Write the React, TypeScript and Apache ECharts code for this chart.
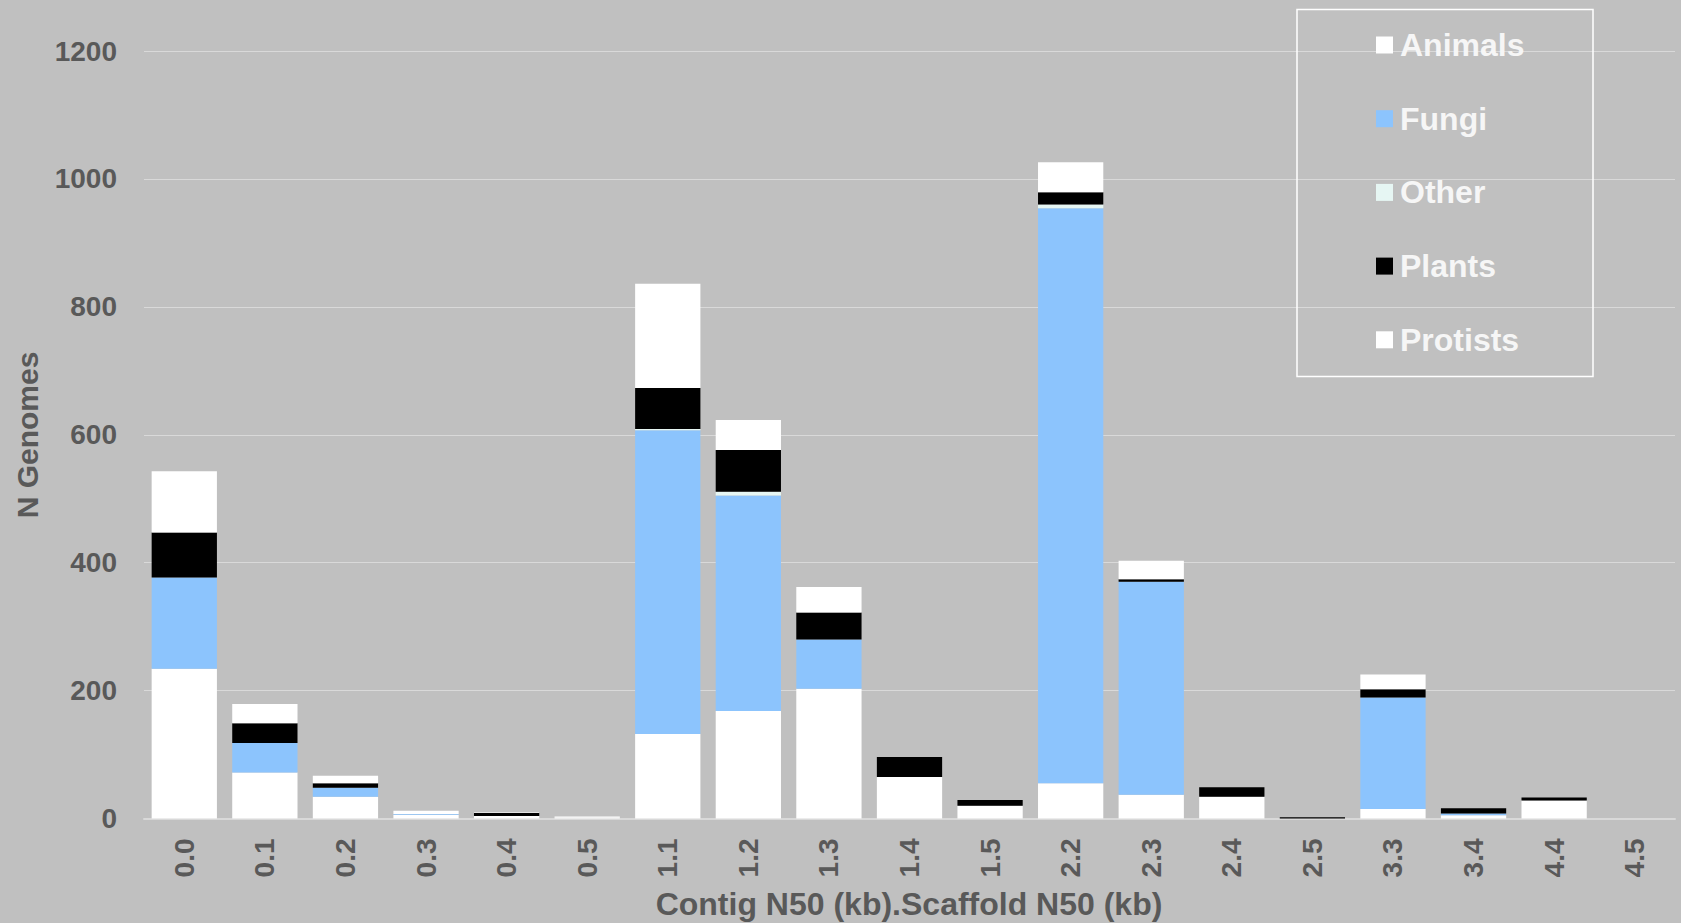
import React, { useEffect, useRef } from "react";
import * as echarts from "echarts";

const categories = ["0.0", "0.1", "0.2", "0.3", "0.4", "0.5", "1.1", "1.2", "1.3", "1.4", "1.5", "2.2", "2.3", "2.4", "2.5", "3.3", "3.4", "4.4", "4.5"];
const seriesNames = ["Animals", "Fungi", "Other", "Plants", "Protists"];
const animals = [234, 72, 34, 6, 4, 2, 132, 168, 203, 65, 20, 55, 37, 34, 0, 15, 5, 28, 0];
const fungi = [143, 46, 14, 1, 0, 0, 475, 337, 77, 0, 0, 899, 333, 0, 0, 174, 3, 0, 0];
const other = [0, 0, 0, 0, 0, 0, 2, 6, 0, 0, 0, 6, 0, 0, 0, 0, 0, 0, 0];
const plants = [70, 31, 7, 0, 5, 0, 64, 65, 42, 31, 9, 19, 4, 15, 2, 13, 8, 5, 0];
const protists = [96, 30, 12, 5, 1, 1, 163, 47, 40, 0, 0, 47, 29, 0, 0, 23, 0, 0, 0];
const seriesColors = ["#ffffff", "#8cc4fd", "#e6f6f3", "#000000", "#ffffff"];
const yTicks = [0, 200, 400, 600, 800, 1000, 1200];

const FONT = "'Liberation Sans', Arial, sans-serif";
const GREY = "#595959";

export default function App() {
  const ref = useRef<HTMLDivElement>(null);
  useEffect(() => {
    if (!ref.current) return;
    const chart = echarts.init(ref.current, null, { renderer: "svg" });
    const values = [animals, fungi, other, plants, protists];
    chart.setOption({
      animation: false,
      backgroundColor: "#c0c0c0",
      grid: { left: 144, right: 6, top: 51, bottom: 104.5, containLabel: false },
      legend: {
        data: seriesNames,
        orient: "vertical",
        left: 1371,
        top: 24,
        itemWidth: 17,
        itemHeight: 17,
        itemGap: 41.7,
        icon: "rect",
        selectedMode: false,
        textStyle: {
          color: "#f6f6f6",
          fontFamily: FONT,
          fontWeight: "bold",
          fontSize: 32,
          lineHeight: 31,
          padding: [0, 0, 0, 2],
        },
      },
      xAxis: {
        type: "category",
        data: categories,
        axisLine: { lineStyle: { color: "#d9d9d9", width: 2 } },
        axisTick: { show: false },
        axisLabel: {
          rotate: 90,
          margin: 20,
          color: GREY,
          fontFamily: FONT,
          fontWeight: "bold",
          fontSize: 28,
        },
      },
      yAxis: {
        type: "value",
        min: yTicks[0],
        max: yTicks[yTicks.length - 1],
        interval: 200,
        axisLine: { show: false },
        axisTick: { show: false },
        splitLine: { lineStyle: { color: "#d9d9d9", width: 1.2 } },
        axisLabel: {
          margin: 27,
          color: GREY,
          fontFamily: FONT,
          fontWeight: "bold",
          fontSize: 28,
          formatter: (v: number) => String(v),
        },
      },
      graphic: [
        {
          type: "rect",
          shape: { x: 1297, y: 9.5, width: 296, height: 367 },
          style: { fill: "none", stroke: "#ffffff", lineWidth: 1.5 },
          z: 100,
        },
        {
          type: "text",
          x: 27,
          y: 435,
          rotation: Math.PI / 2,
          style: {
            text: "N Genomes",
            fill: GREY,
            font: `bold 30px ${FONT}`,
            align: "center",
            verticalAlign: "middle",
          },
        },
        {
          type: "text",
          x: 909,
          y: 904,
          style: {
            text: "Contig N50 (kb).Scaffold N50 (kb)",
            fill: GREY,
            font: `bold 32px ${FONT}`,
            align: "center",
            verticalAlign: "middle",
          },
        },
      ],
      series: seriesNames.map((name, i) => ({
        name,
        type: "bar",
        stack: "total",
        barCategoryGap: "19%",
        data: values[i],
        itemStyle: { color: seriesColors[i] },
        emphasis: { disabled: true },
      })),
    });
    return () => chart.dispose();
  }, []);
  return <div ref={ref} style={{ position: "fixed", left: 0, top: 0, width: 1681, height: 923 }} />;
}
